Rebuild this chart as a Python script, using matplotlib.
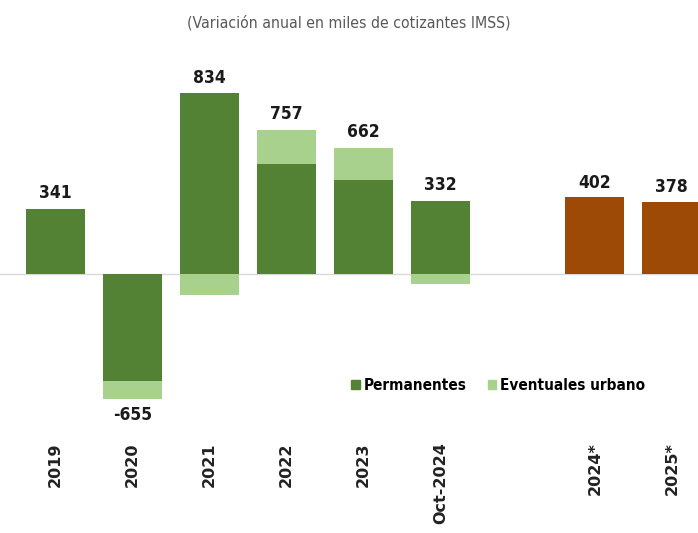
import matplotlib.pyplot as plt
from matplotlib.patches import Patch

# data (miles de cotizantes IMSS)
categorias = ['2019', '2020', '2021', '2022', '2023', 'Oct-2024', '2024*', '2025*']
posiciones = [0, 1, 2, 3, 4, 5, 7, 8]
permanentes = [341, -558, 946, 576, 492, 384]
eventuales = [0, -97, -112, 181, 170, -52]
totales = [341, -655, 834, 757, 662, 332]
pronostico = [402, 378]

verde = '#548235'
verde_claro = '#a9d18e'
cafe = '#9c4a06'
etiqueta = dict(fontsize=12.5, fontweight='bold', family='DejaVu Sans',
                fontstretch='condensed', color='#1a1a1a', ha='center')

fig = plt.figure(figsize=(6.98, 5.33), dpi=100)
ax = fig.add_axes([0, 0.212, 1, 0.675])

hist_x = posiciones[:6]
ax.bar(hist_x, permanentes, width=0.77, color=verde, zorder=2)
# eventuales stack on the permanent bar when same sign, else start at zero
base = [p if (p >= 0) == (e >= 0) else 0 for p, e in zip(permanentes, eventuales)]
ax.bar(hist_x, eventuales, width=0.77, bottom=base, color=verde_claro, zorder=2)
ax.bar(posiciones[6:], pronostico, width=0.77, color=cafe, zorder=2)

ax.axhline(0, color='#d9d9d9', lw=1, zorder=1)

# value labels
for x, p, e, lab in zip(hist_x, permanentes, eventuales, totales):
    if lab >= 0:
        top = p + e if e > 0 else p
        ax.annotate(str(lab), (x, top), xytext=(0, 5), textcoords='offset points',
                    va='bottom', **etiqueta)
    else:
        bottom = p + e if e < 0 else p
        ax.annotate(str(lab), (x, bottom), xytext=(0, -5), textcoords='offset points',
                    va='top', **etiqueta)
for x, v in zip(posiciones[6:], pronostico):
    ax.annotate(str(v), (x, v), xytext=(0, 4), textcoords='offset points',
                va='bottom', **etiqueta)

ax.set_xlim(-0.72, 8.34)
ax.set_ylim(-764, 1120)
ax.set_xticks(posiciones)
ax.set_xticklabels(categorias, rotation=90, fontsize=11.5, fontweight='bold',
                   family='DejaVu Sans', color='#222222')
ax.tick_params(axis='x', length=0, pad=16)
ax.set_yticks([])
for s in ax.spines.values():
    s.set_visible(False)

handles = [Patch(color=verde, label='Permanentes'),
           Patch(color=verde_claro, label='Eventuales urbano')]
ax.legend(handles=handles, loc='center', bbox_to_anchor=(0.714, 0.097), ncol=2,
          frameon=False, handlelength=0.55, handleheight=0.55, handletextpad=0.25,
          columnspacing=1.4,
          prop={'family': 'DejaVu Sans', 'stretch': 'condensed', 'weight': 'bold',
                'size': 11})

fig.text(0.5, 0.958, '(Variación anual en miles de cotizantes IMSS)', ha='center',
         va='center', fontsize=11.3, color='#595959', family='DejaVu Sans',
         fontstretch='condensed')

fig.savefig('out.png', dpi=100)
